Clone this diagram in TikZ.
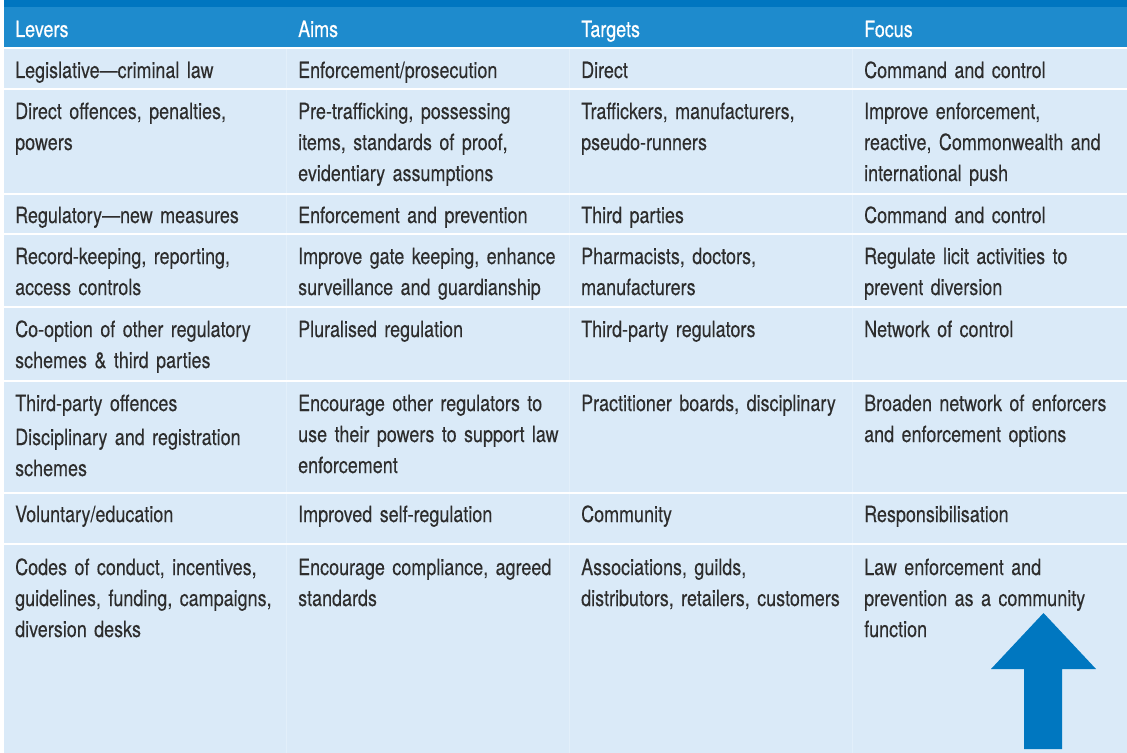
\documentclass[tikz,border=0pt]{standalone}
\usepackage{fontspec}
\setmainfont{TeX Gyre Heros}[FakeStretch=0.805,WordSpace=0.7,FakeBold=0.15]
\newfontfamily\headfont{TeX Gyre Heros}[FakeStretch=0.805,WordSpace=0.7,FakeBold=0.5]
\usepackage{tikz}

\definecolor{titleblue}{RGB}{0,118,192}
\definecolor{headblue}{RGB}{30,139,205}
\definecolor{rowblue}{RGB}{218,234,248}
\definecolor{inkgrey}{RGB}{45,45,45}
\definecolor{arrowblue}{RGB}{0,119,192}

\tikzset{
  cell/.style={anchor=base west, inner sep=0pt, text width=282bp, align=left,
    text=inkgrey, font=\fontsize{22.3bp}{31bp}\selectfont},
  headcell/.style={cell, text=white, font=\headfont\fontsize{22.3bp}{31bp}\selectfont},
  rowsep/.style={white, line width=2bp},
  colsep/.style={white!22!rowblue, line width=1bp}
}

\begin{document}
\begin{tikzpicture}[x=1bp,y=-1bp]
\useasboundingbox (0,0) rectangle (1127,753);
% bands
\fill[rowblue] (4,7) rectangle (1127,753);
\fill[titleblue] (4,0) rectangle (1127,7.5);
\fill[headblue] (4,7.5) rectangle (1127,47);
% column lines
\draw[colsep] (286.5,49)--(286.5,753);
\draw[colsep] (569.5,49)--(569.5,753);
\draw[colsep] (852.5,49)--(852.5,753);
% row lines
\draw[rowsep] (4,48)--(1127,48);
\draw[rowsep] (4,89)--(1127,89);
\draw[rowsep] (4,194)--(1127,194);
\draw[rowsep] (4,234)--(1127,234);
\draw[rowsep] (4,307)--(1127,307);
\draw[rowsep] (4,380.5)--(1127,380.5);
\draw[rowsep] (4,493)--(1127,493);
\draw[rowsep] (4,544)--(1127,544);
% header
\node[headcell] (levers) at (15,37) {Levers};
\node[headcell] (aims) at (298,37) {Aims};
\node[headcell] (targets) at (581,37) {Targets};
\node[headcell] (focus) at (864,37) {Focus};
% row 1
\node[cell] (lev1) at (15,78) {Legislative—criminal law};
\node[cell] (aim1) at (298,78) {Enforcement/prosecution};
\node[cell] (tgt1) at (581,78) {Direct};
\node[cell] (foc1) at (864,78) {Command and control};
% row 2
\node[cell] (lev2) at (15,119) {Direct offences, penalties,\\powers};
\node[cell] (aim2) at (298,119) {Pre-trafficking, possessing\\items, standards of proof,\\evidentiary assumptions};
\node[cell] (tgt2) at (581,119) {Traffickers, manufacturers,\\pseudo-runners};
\node[cell] (foc2) at (864,119) {Improve enforcement,\\reactive, Commonwealth and\\international push};
% row 3
\node[cell] (lev3) at (15,223) {Regulatory—new measures};
\node[cell] (aim3) at (298,223) {Enforcement and prevention};
\node[cell] (tgt3) at (581,223) {Third parties};
\node[cell] (foc3) at (864,223) {Command and control};
% row 4
\node[cell] (lev4) at (15,264) {Record-keeping, reporting,\\access controls};
\node[cell] (aim4) at (298,264) {Improve gate keeping, enhance\\surveillance and guardianship};
\node[cell] (tgt4) at (581,264) {Pharmacists, doctors,\\manufacturers};
\node[cell] (foc4) at (864,264) {Regulate licit activities to\\prevent diversion};
% row 5
\node[cell] (lev5) at (15,337) {Co-option of other regulatory\\schemes \& third parties};
\node[cell] (aim5) at (298,337) {Pluralised regulation};
\node[cell] (tgt5) at (581,337) {Third-party regulators};
\node[cell] (foc5) at (864,337) {Network of control};
% row 6
\node[cell] (lev6) at (15,411) {Third-party offences\\[3bp]Disciplinary and registration\\schemes};
\node[cell] (aim6) at (298,411) {Encourage other regulators to\\use their powers to support law\\enforcement};
\node[cell] (tgt6) at (581,411) {Practitioner boards, disciplinary};
\node[cell] (foc6) at (864,411) {Broaden network of enforcers\\and enforcement options};
% row 7
\node[cell] (lev7) at (15,522) {Voluntary/education};
\node[cell] (aim7) at (298,522) {Improved self-regulation};
\node[cell] (tgt7) at (581,522) {Community};
\node[cell] (foc7) at (864,522) {Responsibilisation};
% row 8
\node[cell] (lev8) at (15,575) {Codes of conduct, incentives,\\guidelines, funding, campaigns,\\diversion desks};
\node[cell] (aim8) at (298,575) {Encourage compliance, agreed\\standards};
\node[cell] (tgt8) at (581,575) {Associations, guilds,\\distributors, retailers, customers};
\node[cell] (foc8) at (864,575) {Law enforcement and\\prevention as a community\\function};
% big arrow
\fill[arrowblue] (1024,749) -- (1024,669) -- (991,669) -- (1043.5,613)
  -- (1096,669) -- (1062,669) -- (1062,749) -- cycle;
\end{tikzpicture}
\end{document}
